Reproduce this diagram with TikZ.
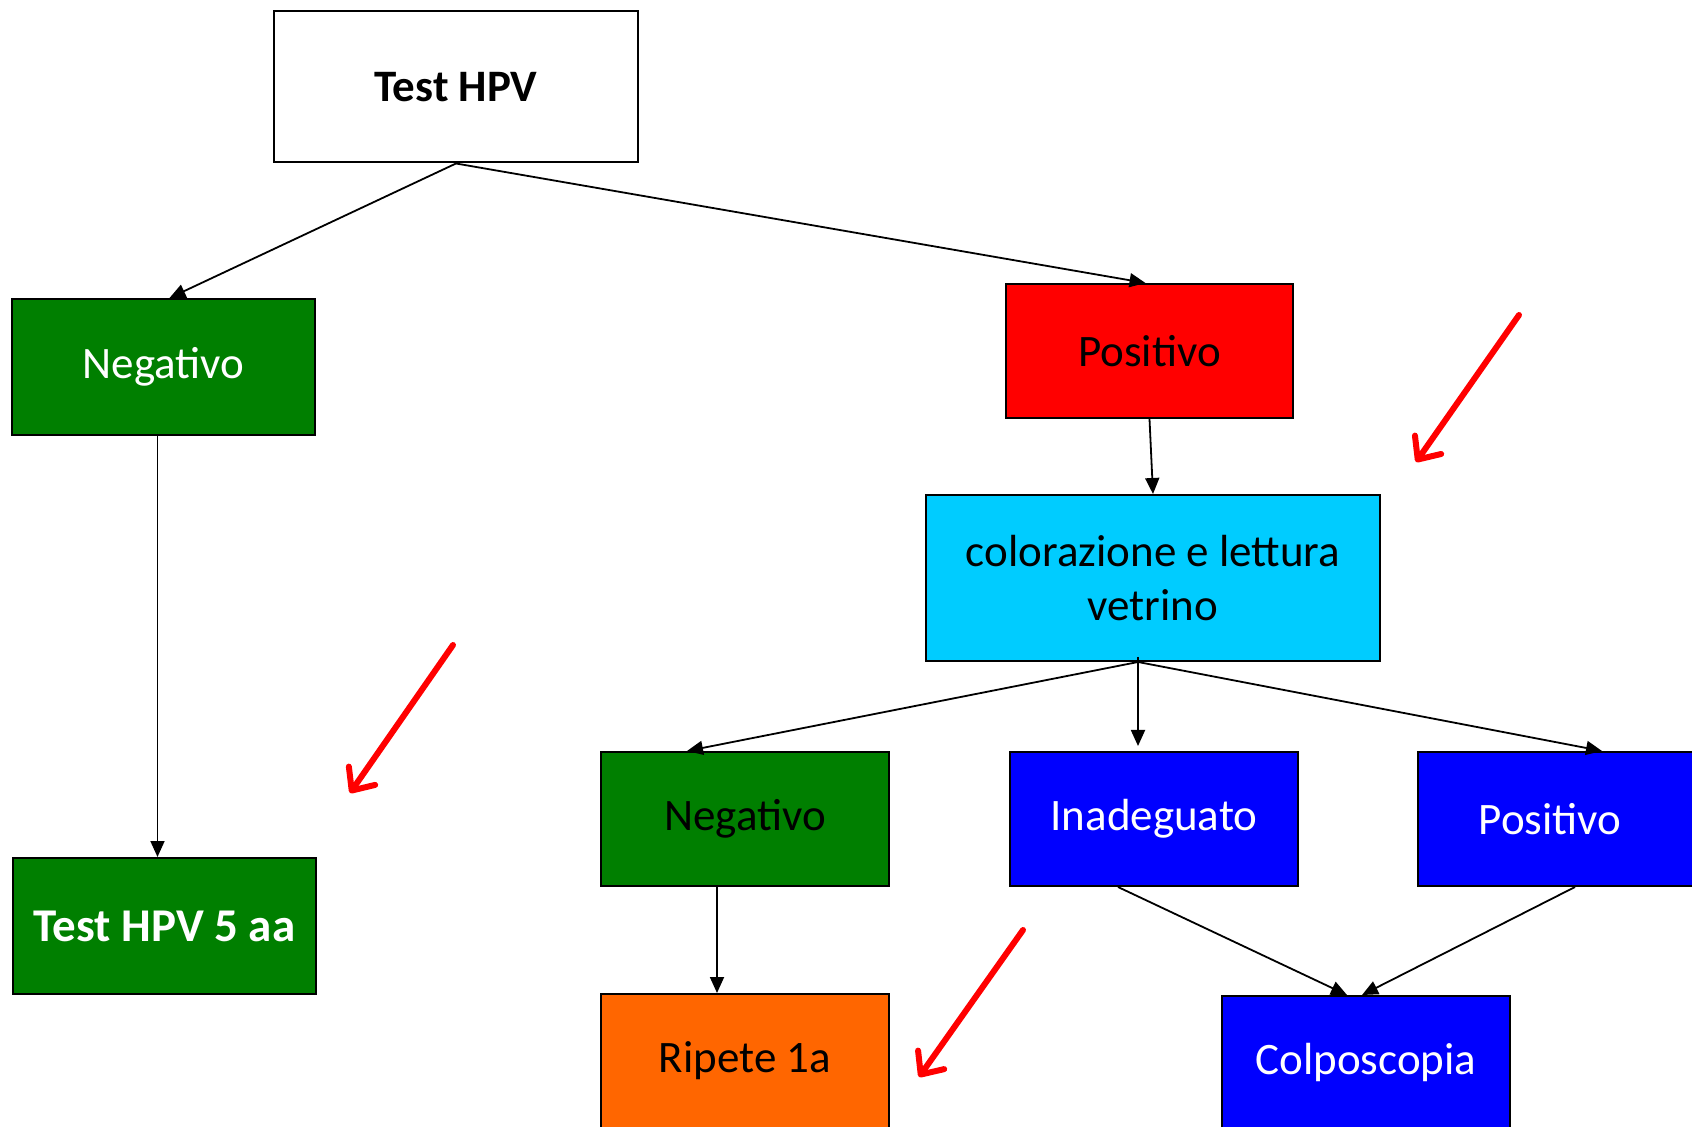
\documentclass[tikz,border=0pt]{standalone}
\usepackage{fontspec}
\setmainfont{Carlito}
\usetikzlibrary{arrows.meta,calc}
\definecolor{cgreen}{HTML}{007F00}
\definecolor{cred}{HTML}{FF0000}
\definecolor{ccyan}{HTML}{00CCFF}
\definecolor{cblue}{HTML}{0000FF}
\definecolor{corange}{HTML}{FF6600}
\tikzset{
  box/.style={draw=black, line width=1pt, rectangle, inner sep=0pt, align=center,
    font=\fontsize{22.5}{27}\selectfont, minimum width=144pt, minimum height=67pt},
  conn/.style={draw=black, line width=0.9pt, -{Triangle[length=8pt,width=7pt]}},
  redarrow/.style={draw=cred, line width=3pt, line cap=round, line join=round,
    -{Straight Barb[length=9pt,width=16pt,round]}}
}
\begin{document}
\begin{tikzpicture}[x=0.5pt,y=-0.5pt]
\clip (0,0) rectangle (1692,1127);
\fill[white] (0,0) rectangle (1692,1127);
% boxes
\node[box, fill=white, minimum width=182pt, minimum height=75.5pt, font=\fontsize{22.5}{27}\selectfont\bfseries] (hpv) at (456,87) {Test HPV};
\node[box, fill=cgreen, text=white, minimum width=151.5pt, minimum height=68pt] (neg1) at (163.5,367) {Negativo};
\node[box, fill=cred, text=black, minimum width=143.5pt, minimum height=67pt] (pos1) at (1149.5,351) {Positivo};
\node[box, fill=ccyan, text=black, minimum width=227pt, minimum height=83pt] (cyan) at (1153,578) {colorazione e lettura\\vetrino};
\node[box, fill=cgreen, text=white, minimum width=151.5pt, minimum height=68pt, font=\fontsize{23.5}{28}\selectfont\bfseries] (t5) at (164.5,926) {Test HPV 5 aa};
\node[box, fill=cgreen, text=black] (neg2) at (745,819) {Negativo};
\node[box, fill=cblue, text=white] (inad) at (1154,819) {Inadeguato};
\node[box, fill=cblue, text=white] (pos2) at (1562,819) {Positivo\hspace*{12pt}};
\node[box, fill=corange, text=black] (rip) at (745,1061) {Ripete 1a};
\node[box, fill=cblue, text=white] (colp) at (1366,1063) {Colposcopia};
% connectors
\draw[conn] (hpv.south) -- ([xshift=3pt]neg1.north);
\draw[conn] (hpv.south) -- ([xshift=-2pt]pos1.north);
\draw[conn] ([xshift=-3pt]neg1.south) -- ([xshift=-3pt]neg1.south |- t5.north);
\draw[conn] (pos1.south) -- (cyan.north);
\draw[conn] ([xshift=-7.5pt]cyan.south) -- ([xshift=-29pt]neg2.north);
\draw[conn] ([xshift=-7.5pt,yshift=2.5pt]cyan.south) -- ([xshift=-8pt,yshift=2.5pt]inad.north);
\draw[conn] ([xshift=-7.5pt]cyan.south) -- ([xshift=20pt]pos2.north);
\draw[conn] ([xshift=-14pt]neg2.south) -- ([xshift=-14pt]neg2.south |- rip.north);
\draw[conn] ([xshift=-18pt]inad.south) -- ([xshift=-9.5pt]colp.north);
\draw[conn] ([xshift=6.5pt]pos2.south) -- ([xshift=-2pt]colp.north);
% red arrows
\coordinate (r1a) at (1519,315); \coordinate (r1b) at (1416,462);
\coordinate (r2a) at (453,645);  \coordinate (r2b) at (350,793);
\coordinate (r3a) at (1023,930); \coordinate (r3b) at (919,1077);
\draw[redarrow] (r1a) -- (r1b);
\draw[redarrow] (r2a) -- (r2b);
\draw[redarrow] (r3a) -- (r3b);
\end{tikzpicture}
\end{document}
